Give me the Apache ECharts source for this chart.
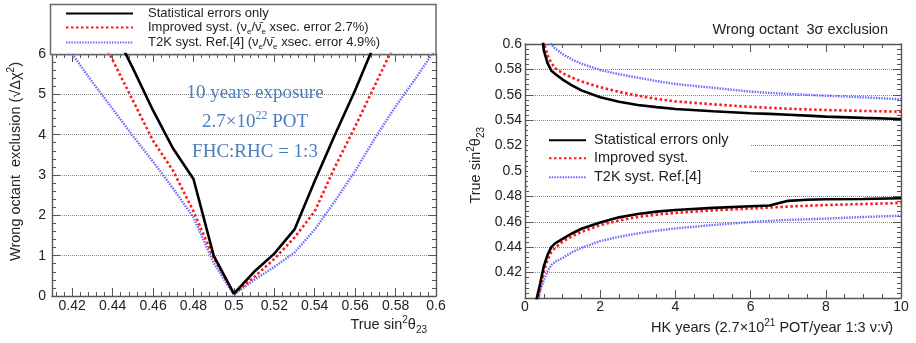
<!DOCTYPE html>
<html><head><meta charset="utf-8">
<script src="https://cdn.jsdelivr.net/npm/echarts@6/dist/echarts.min.js"></script>
<style>html,body{margin:0;padding:0;background:#fff}#c{width:916px;height:343px}</style>
</head><body><div id="c"></div>
<script>
// ---------- data ----------
const leftX = [0.42,0.43,0.44,0.45,0.46,0.47,0.48,0.49,0.50,0.51,0.52,0.53,0.54,0.55,0.56,0.57,0.58,0.59,0.60];
const leftStat     = [null,null,6.65,5.65,4.6,3.65,2.9,1.0,0.06,0.6,1.05,1.65,2.85,4.0,5.1,6.3,null,null,null];
const leftImproved = [null,6.85,5.85,4.85,3.85,3.1,2.1,0.95,0.05,0.47,0.92,1.45,2.1,3.2,4.2,5.25,6.3,null,null];
const leftT2K      = [6.0,5.3,4.64,3.97,3.33,2.66,1.95,0.82,0.03,0.4,0.72,1.08,1.65,2.35,3.1,3.93,4.7,5.4,6.15];

const rightX    = [0.3,0.4,0.5,0.6,0.7,0.8,1,1.25,1.5,2,2.5,3,3.5,4,5,6,6.5,7,7.5,8,9,10];
const statUpper = [null,0.625,0.595,0.585,0.579,0.5765,0.572,0.5675,0.5635,0.558,0.5545,0.552,0.5503,0.5488,0.547,0.5455,0.545,0.5443,0.5436,0.5428,0.5418,0.541];
const statLower = [0.398,0.411,0.425,0.434,0.44,0.443,0.4465,0.4508,0.4545,0.4595,0.4635,0.4662,0.468,0.4693,0.471,0.4722,0.4728,0.4765,0.4774,0.4777,0.478,0.4785];
const impUpper  = [null,0.63,0.601,0.591,0.585,0.581,0.577,0.5735,0.5705,0.566,0.5623,0.5593,0.5568,0.5548,0.5525,0.5505,0.5498,0.549,0.5485,0.548,0.5473,0.5467];
const impLower  = [0.393,0.407,0.421,0.43,0.436,0.4395,0.4443,0.4485,0.452,0.4574,0.461,0.4638,0.4656,0.467,0.469,0.4705,0.4712,0.472,0.4726,0.4732,0.474,0.4748];
const t2kUpper  = [null,null,0.612,0.6035,0.5995,0.5965,0.592,0.5878,0.5845,0.5795,0.5762,0.5735,0.5708,0.5685,0.5655,0.5625,0.5615,0.5607,0.56,0.5593,0.558,0.5565];
const t2kLower  = [0.392,0.405,0.414,0.421,0.426,0.4285,0.4315,0.436,0.4395,0.4448,0.4482,0.4508,0.453,0.4548,0.4575,0.4598,0.4607,0.4615,0.462,0.4625,0.4638,0.4648];

const leftXRange = [0.41, 0.6];
const leftYRange = [0, 6];
const rightXRange = [0, 10];
const rightYRange = [0.4, 0.6];

const nameStat = 'Statistical errors only';
const nameImpL = 'Improved syst. (nue/nubare xsec. error 2.7%)';
const nameT2KL = 'T2K syst. Ref.[4] (nue/nubare xsec. error 4.9%)';
const nameImpR = 'Improved syst.';
const nameT2KR = 'T2K syst. Ref.[4]';
const legendRich = {
  [nameStat]: 'Statistical errors only',
  [nameImpL]: 'Improved syst. (ν{sub|e}/ν\u0304{sub|e} xsec. error 2.7%)',
  [nameT2KL]: 'T2K syst. Ref.[4] (ν{sub|e}/ν\u0304{sub|e} xsec. error 4.9%)',
  [nameImpR]: 'Improved syst.',
  [nameT2KR]: 'T2K syst. Ref.[4]'
};

// ---------- styles ----------
const FONT = '"Liberation Sans", Arial, Helvetica, sans-serif';
const TXT = '#222';
const AX = '#555';
const sBlack = {color:'#000', width:2.6, type:'solid'};
const sRed   = {color:'#ff1a1a', width:2.6, type:[2.5,2.5]};
const sBlue  = {color:'#6a6aff', width:2.4, type:[1.5,1.2]};

function pairs(xs, ys){ const out=[]; xs.forEach((x,i)=>{ if(ys[i]!=null) out.push([x, ys[i]]); }); return out; }
function line(name, xs, ys, st, idx){
  return {type:'line', name, data:pairs(xs,ys), xAxisIndex:idx, yAxisIndex:idx, symbol:'none', showSymbol:false,
    lineStyle:st, itemStyle:{color:st.color}, clip:true, animation:false, z:2, emphasis:{disabled:true}};
}
function axisCommon(opts){
  return Object.assign({
    type:'value', scale:false,
    axisLine:{show:true, onZero:false, lineStyle:{color:AX, width:1.4}},
    axisTick:{show:true, inside:true, length:8, lineStyle:{color:AX, width:1}},
    minorTick:{show:true, length:4, lineStyle:{color:AX, width:1}},
    axisLabel:{show:true, fontSize:14, color:TXT, fontFamily:FONT},
    splitLine:{show:false}
  }, opts);
}

const xAxes = [
  axisCommon({gridIndex:0, position:'bottom', min:leftXRange[0], max:leftXRange[1], splitNumber:10,
    minorTick:{show:true, splitNumber:5, length:4, lineStyle:{color:AX}},
    axisLabel:{show:true, showMinLabel:false, fontSize:14, color:TXT, fontFamily:FONT, margin:3,
      formatter:v=>String(+(+v).toFixed(2))}}),
  axisCommon({gridIndex:0, position:'top', min:leftXRange[0], max:leftXRange[1], splitNumber:10,
    minorTick:{show:true, splitNumber:5, length:4, lineStyle:{color:AX}}, axisLabel:{show:false}}),
  axisCommon({gridIndex:1, position:'bottom', min:rightXRange[0], max:rightXRange[1], interval:2,
    minorTick:{show:true, splitNumber:4, length:4, lineStyle:{color:AX}},
    axisLabel:{show:true, fontSize:14, color:TXT, fontFamily:FONT, margin:2}}),
  axisCommon({gridIndex:1, position:'top', min:rightXRange[0], max:rightXRange[1], interval:2,
    minorTick:{show:true, splitNumber:4, length:4, lineStyle:{color:AX}}, axisLabel:{show:false}})
];
const yAxes = [
  axisCommon({gridIndex:0, position:'left', min:leftYRange[0], max:leftYRange[1], interval:1,
    minorTick:{show:true, splitNumber:5, length:4, lineStyle:{color:AX}},
    axisLabel:{show:true, fontSize:14, color:TXT, fontFamily:FONT, margin:6},
    splitLine:{show:true, lineStyle:{color:'#8a8a8a', width:1, type:'dotted'}}}),
  axisCommon({gridIndex:0, position:'right', min:leftYRange[0], max:leftYRange[1], interval:1,
    minorTick:{show:true, splitNumber:5, length:4, lineStyle:{color:AX}}, axisLabel:{show:false}}),
  axisCommon({gridIndex:1, position:'left', min:rightYRange[0], max:rightYRange[1], interval:0.02,
    minorTick:{show:true, splitNumber:5, length:4, lineStyle:{color:AX}},
    axisLabel:{show:true, showMinLabel:false, fontSize:14, color:TXT, fontFamily:FONT, margin:3,
      formatter:v=>String(+(+v).toFixed(2))},
    splitLine:{show:true, lineStyle:{color:'#8a8a8a', width:1, type:'dotted'}}}),
  axisCommon({gridIndex:1, position:'right', min:rightYRange[0], max:rightYRange[1], interval:0.02,
    minorTick:{show:true, splitNumber:5, length:4, lineStyle:{color:AX}}, axisLabel:{show:false}})
];

const series = [
  line(nameT2KL, leftX, leftT2K, sBlue, 0),
  line(nameImpL, leftX, leftImproved, sRed, 0),
  line(nameStat, leftX, leftStat, sBlack, 0),
  line(nameT2KR, rightX, t2kUpper, sBlue, 2),
  line(nameT2KR, rightX, t2kLower, sBlue, 2),
  line(nameImpR, rightX, impUpper, sRed, 2),
  line(nameImpR, rightX, impLower, sRed, 2),
  line(nameStat, rightX, statUpper, sBlack, 2),
  line(nameStat, rightX, statLower, sBlack, 2)
];

function leg(name, left, top, iw, fs, padLeft){
  return {show:true, data:[name], orient:'vertical', left, top, padding:0, itemGap:0,
    itemWidth:iw, itemHeight:12, selectedMode:false, z:6,
    itemStyle:{opacity:0, borderWidth:0},
    formatter:n=>legendRich[n],
    textStyle:{fontSize:fs, color:TXT, fontFamily:FONT, padding:[0,0,0,padLeft], lineHeight:fs+4,
      rich:{sub:{fontSize:Math.round(fs*0.65), fontFamily:FONT, color:TXT, verticalAlign:'bottom', lineHeight:fs+4}}}};
}
const legends = [
  leg(nameStat, 65, 5, 67, 13, 10),
  leg(nameImpL, 65, 19, 67, 13, 10),
  leg(nameT2KL, 65, 34, 67, 13, 10),
  leg(nameStat, 548, 131, 37, 14.5, 3),
  leg(nameImpR, 548, 149, 37, 14.5, 3),
  leg(nameT2KR, 548, 168, 37, 14.5, 3)
];

const ann = '#4a7cc0';
const SERIF = '"Liberation Serif", "Times New Roman", serif';
const graphics = [
  {type:'rect', z:1, shape:{x:50.5, y:4.5, width:385.5, height:50}, style:{fill:'#fff', stroke:'#6a6a6a', lineWidth:1.5}},
  {type:'rect', z:3, shape:{x:528, y:124, width:222, height:66}, style:{fill:'#fff'}},
  {type:'text', z:5, x:255, y:93, style:{text:'10 years exposure', fill:ann, font:'19px '+SERIF, align:'center', verticalAlign:'middle'}},
  {type:'text', z:5, x:255, y:122, style:{text:'{a|2.7×10}{s|22}{a| POT}', align:'center', verticalAlign:'middle',
    rich:{a:{fill:ann, fontSize:19, fontFamily:SERIF, lineHeight:24}, s:{fill:ann, fontSize:12, fontFamily:SERIF, verticalAlign:'top', lineHeight:24}}}},
  {type:'text', z:5, x:255, y:152, style:{text:'FHC:RHC = 1:3', fill:ann, font:'19px '+SERIF, align:'center', verticalAlign:'middle'}},
  {type:'text', z:5, x:888, y:30, style:{text:'Wrong octant  3σ exclusion', fill:TXT, font:'14.5px '+FONT, align:'right', verticalAlign:'middle'}},
  {type:'text', z:5, x:427, y:325, style:{text:'{a|True sin}{p|2}{a|θ}{b|23}', align:'right', verticalAlign:'middle',
    rich:{a:{fill:TXT, fontSize:14.5, fontFamily:FONT, lineHeight:20}, p:{fill:TXT, fontSize:10, fontFamily:FONT, verticalAlign:'top', lineHeight:20}, b:{fill:TXT, fontSize:10, fontFamily:FONT, verticalAlign:'bottom', lineHeight:16}}}},
  {type:'text', z:5, x:893, y:328, style:{text:'{a|HK years (2.7×10}{p|21}{a| POT/year 1:3 ν:ν\u0304)}', align:'right', verticalAlign:'middle',
    rich:{a:{fill:TXT, fontSize:14.5, fontFamily:FONT, lineHeight:20}, p:{fill:TXT, fontSize:10, fontFamily:FONT, verticalAlign:'top', lineHeight:20}}}},
  {type:'text', z:5, x:16, y:62, rotation:Math.PI/2, style:{text:'{a|Wrong octant  exclusion (√Δχ}{p|2}{a|)}', align:'right', verticalAlign:'middle',
    rich:{a:{fill:TXT, fontSize:14.5, fontFamily:FONT, lineHeight:20}, p:{fill:TXT, fontSize:10, fontFamily:FONT, verticalAlign:'top', lineHeight:20}}}},
  {type:'text', z:5, x:476, y:127, rotation:Math.PI/2, style:{text:'{a|True sin}{p|2}{a|θ}{b|23}', align:'right', verticalAlign:'middle',
    rich:{a:{fill:TXT, fontSize:14.5, fontFamily:FONT, lineHeight:20}, p:{fill:TXT, fontSize:10, fontFamily:FONT, verticalAlign:'top', lineHeight:20}, b:{fill:TXT, fontSize:10, fontFamily:FONT, verticalAlign:'bottom', lineHeight:16}}}}
];

const chart = echarts.init(document.getElementById('c'), null, {renderer:'canvas'});
chart.setOption({
  animation:false,
  backgroundColor:'#fff',
  textStyle:{fontFamily:FONT},
  grid:[
    {left:52, top:54, width:384, height:242, containLabel:false},
    {left:525, top:44, width:376, height:254, containLabel:false}
  ],
  xAxis:xAxes,
  yAxis:yAxes,
  legend:legends,
  graphic:{elements:graphics},
  series
});
</script></body></html>
